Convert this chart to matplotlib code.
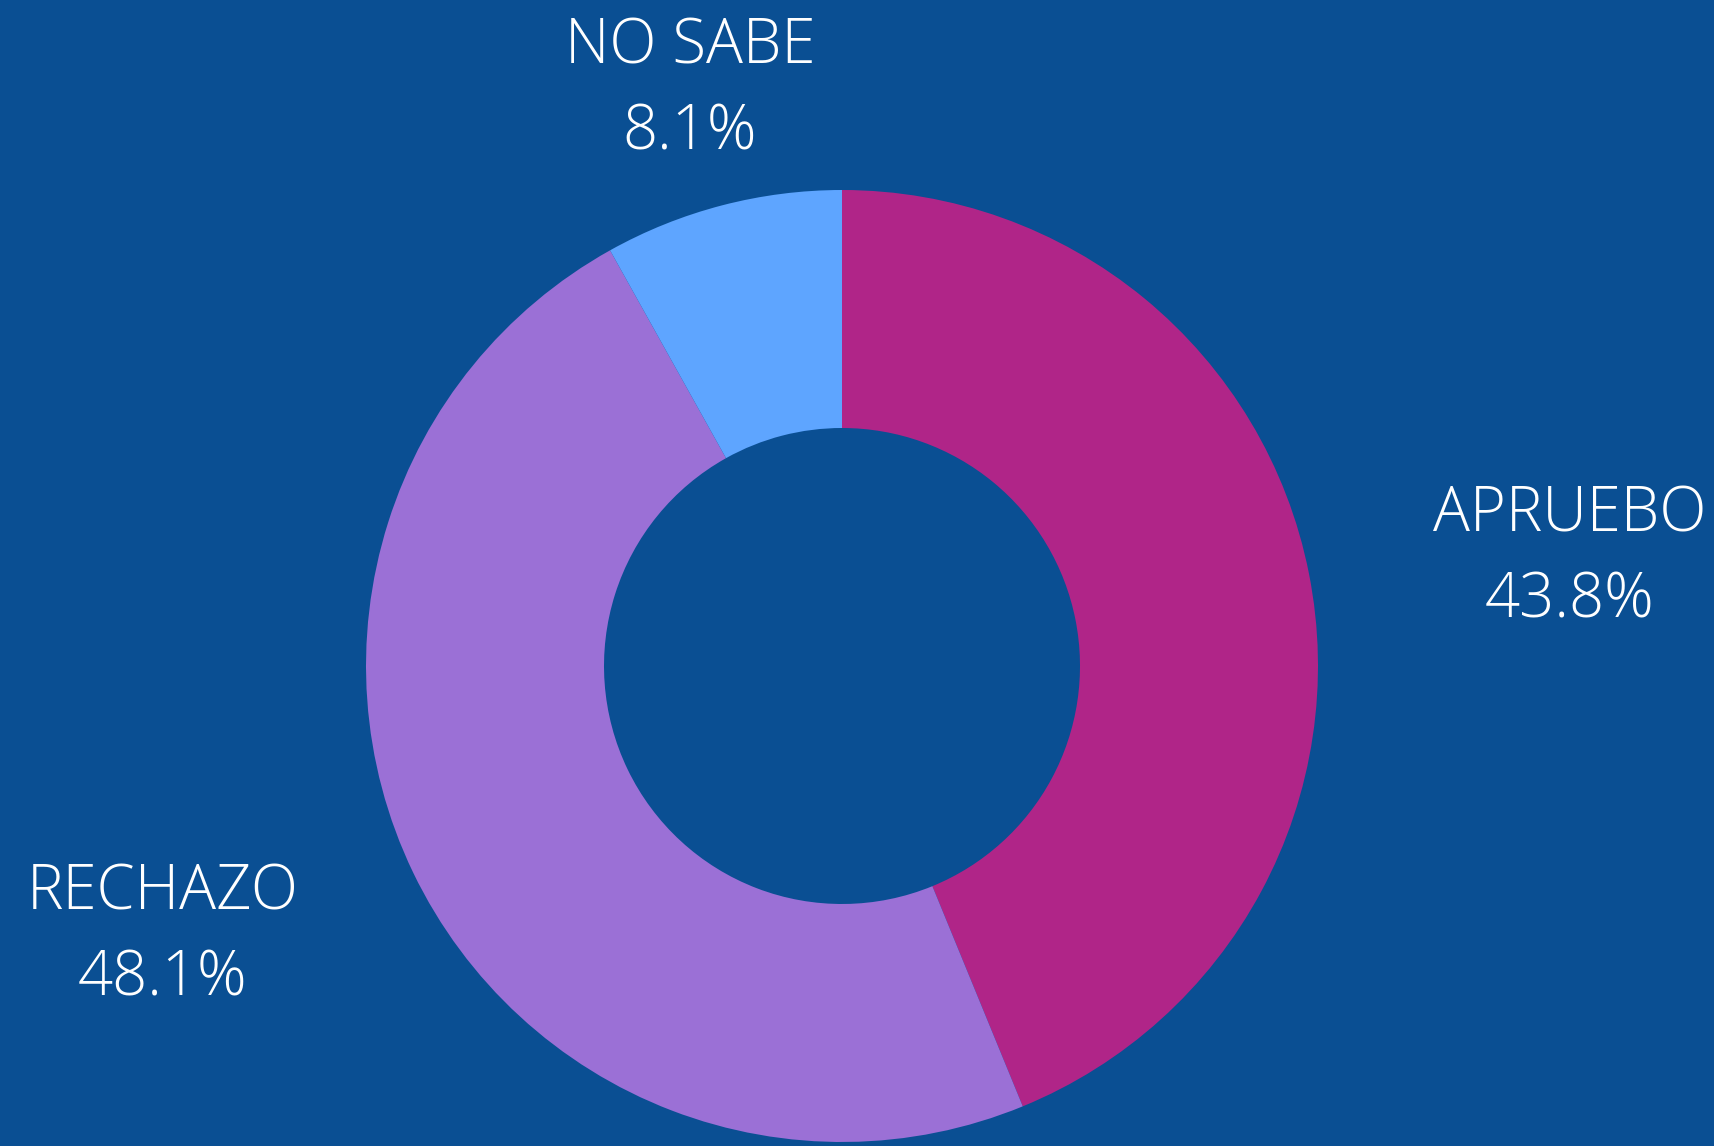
import matplotlib
matplotlib.use("Agg")
import matplotlib.pyplot as plt

categories = ["APRUEBO", "RECHAZO", "NO SABE"]
values = [43.8, 48.1, 8.1]
colors = ["#B02588", "#9B70D6", "#5EA5FF"]
bg = "#0A4F93"

W, H = 1714, 1146
fig = plt.figure(figsize=(W / 100, H / 100), dpi=100, facecolor=bg)
ax = fig.add_axes([0, 0, 1, 1])
ax.set_facecolor(bg)

cx, cy, R = 842, H - 666, 476
ax.pie(values, colors=colors, startangle=90, counterclock=False,
       center=(cx, cy), radius=R, frame=True,
       wedgeprops=dict(width=R * 0.5, linewidth=0, edgecolor="none"))
ax.set_xlim(0, W)
ax.set_ylim(0, H)
ax.set_aspect("equal")
ax.axis("off")

label_pos = {"APRUEBO": (1570, 532, 617),
             "RECHAZO": (163, 910, 996),
             "NO SABE": (690, 63, 150)}
font = dict(family=["Open Sans", "DejaVu Sans"], fontweight="light",
            fontsize=44.3, color="white", ha="center", va="baseline")
for cat, val in zip(categories, values):
    x, y1, y2 = label_pos[cat]
    ax.text(x, H - y1, cat, **font)
    ax.text(x, H - y2, f"{val:.1f}%", **font)

fig.savefig("out.png", dpi=100, facecolor=bg)
